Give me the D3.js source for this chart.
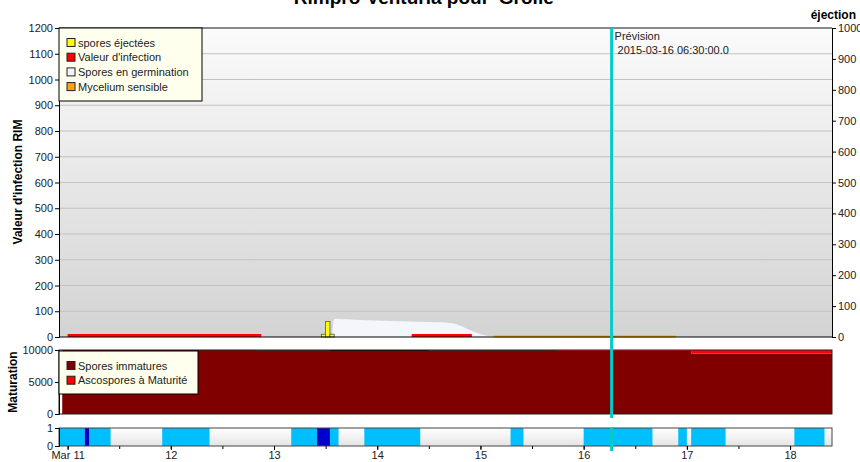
<!DOCTYPE html>
<html>
<head>
<meta charset="utf-8">
<script src="https://cdn.jsdelivr.net/npm/d3@7"></script>
<style>
  body { margin: 0; background: #fff; }
  svg { font-family: Arial, "Liberation Sans", sans-serif; }
  .axis text { font-size: 11px; fill: #222; }
  .axis path, .axis line { stroke: #000; }
  .legend text { font-size: 11px; fill: #222; }
  .ylabel { font-size: 12px; font-weight: bold; fill: #000; }
</style>
</head>
<body>
<svg width="860" height="462"></svg>
<script>
// all times are hours after 2015-03-11 00:00
var startHour = -2, endHour = 177.75;

// Valeur d'infection (red segments near zero)
var infectionStart = [0, 80],
    infectionEnd = [45, 94],
    infectionValue = 6;

// spores éjectées (right axis)
var ejectHours = [59, 60, 61],
    ejectValues = [9, 50, 9];

// Spores en germination
var germHours = [61.5, 62, 64, 66, 68, 70, 72, 74, 76, 78, 80, 82, 84, 86, 88, 89, 90, 91, 92, 93, 94, 95, 96, 97, 98, 99, 100],
    germValues = [0, 70, 69, 68, 66, 65, 64, 63, 62, 61, 60, 59, 58, 57, 56, 54, 51, 46, 39, 31, 24, 17, 11, 7, 4, 2, 0];

// Mycelium sensible
var myceliumStart = 99, myceliumEnd = 141.5, myceliumValue = 2;

// Maturation panel
var matHours = [-1.25, 44, 61, 84, 114, 145, 177.75],
    immature = [10000, 9900, 9850, 9900, 9850, 9450, 9450],
    ejecting = [0, 100, 150, 100, 0, 0, 0],
    mature = [0, 0, 0, 0, 150, 550, 550];

// wetness strip
var wetStart = [-2, 5, 22, 52, 61, 69, 103, 120, 142, 145, 169],
    wetEnd = [4, 10, 33, 58, 63, 82, 106, 136, 144, 153, 176],
    darkStart = [4, 58],
    darkEnd = [5, 61];

var forecastHour = 126.5;
var legendTop = ["spores éjectées", "Valeur d'infection", "Spores en germination", "Mycelium sensible"],
    legendTopColors = ["#ffff00", "#ff0000", "#f4f5fc", "#ffa500"],
    legendMid = ["Spores immatures", "Ascospores à Maturité"],
    legendMidColors = ["#800000", "#ff0000"];

var t0 = new Date(2015, 2, 11);
function hr(h) { return new Date(t0.getTime() + h * 3600e3); }

var svg = d3.select("svg");
var x0 = 59, x1 = 832;

var x = d3.scaleTime().domain([hr(startHour), hr(endHour)]).range([x0, x1]);
var yL = d3.scaleLinear().domain([0, 1200]).range([337, 28]);
var yR = d3.scaleLinear().domain([0, 1000]).range([337, 28]);
var yM = d3.scaleLinear().domain([0, 10000]).range([414, 350]);
var yW = d3.scaleLinear().domain([0, 1]).range([446, 428]);

var defs = svg.append("defs");
var g1 = defs.append("linearGradient").attr("id", "bgTop").attr("x1", 0).attr("x2", 0).attr("y1", 0).attr("y2", 1);
g1.append("stop").attr("offset", "0%").attr("stop-color", "#fbfbfb");
g1.append("stop").attr("offset", "100%").attr("stop-color", "#d3d3d3");
var g2 = defs.append("linearGradient").attr("id", "bgWet").attr("x1", 0).attr("x2", 0).attr("y1", 0).attr("y2", 1);
g2.append("stop").attr("offset", "0%").attr("stop-color", "#ffffff");
g2.append("stop").attr("offset", "100%").attr("stop-color", "#e4e4e4");

// title (cut at top like the original)
svg.append("text")
    .attr("x", 426).attr("y", 4)
    .attr("text-anchor", "middle")
    .style("font-size", "19px").style("font-weight", "bold")
    .text("Rimpro-Venturia pour 'Grolle'");

// TOP PANEL ------------------------
svg.append("rect").attr("x", x0).attr("y", 28).attr("width", x1 - x0).attr("height", 309)
    .attr("fill", "url(#bgTop)");

svg.append("g").selectAll("line")
    .data(d3.range(100, 1200, 100))
    .enter().append("line")
    .attr("x1", x0).attr("x2", x1)
    .attr("y1", function(d) { return yL(d); }).attr("y2", function(d) { return yL(d); })
    .attr("stroke", "#c2c2c2");

svg.append("line").attr("x1", x0).attr("x2", x1).attr("y1", 28).attr("y2", 28)
    .attr("stroke", "#888").attr("stroke-width", 2);

// germination area
var germ = germHours.map(function(h, i) { return {h: h, v: germValues[i]}; });
svg.append("path")
    .datum(germ)
    .attr("fill", "#f5f6fc")
    .attr("d", d3.area()
        .x(function(d) { return x(hr(d.h)); })
        .y0(yL(0))
        .y1(function(d) { return yL(d.v); })
        .curve(d3.curveMonotoneX));

// infection segments
svg.append("g").selectAll("line")
    .data(infectionStart)
    .enter().append("line")
    .attr("x1", function(d) { return x(hr(d)); })
    .attr("x2", function(d, i) { return x(hr(infectionEnd[i])); })
    .attr("y1", yL(infectionValue)).attr("y2", yL(infectionValue))
    .attr("stroke", "#ff0000").attr("stroke-width", 3);

// mycelium
svg.append("line")
    .attr("x1", x(hr(myceliumStart))).attr("x2", x(hr(myceliumEnd)))
    .attr("y1", yL(myceliumValue)).attr("y2", yL(myceliumValue))
    .attr("stroke", "#ffa500").attr("stroke-width", 2);

// ejected spores bars
svg.append("g").selectAll("rect")
    .data(ejectHours)
    .enter().append("rect")
    .attr("x", function(d) { return x(hr(d)); })
    .attr("width", function(d) { return x(hr(d + 1)) - x(hr(d)); })
    .attr("y", function(d, i) { return yR(ejectValues[i]); })
    .attr("height", function(d, i) { return yR(0) - yR(ejectValues[i]); })
    .attr("fill", "#ffff00").attr("stroke", "#555").attr("stroke-width", 0.8);

// axes
svg.append("g").attr("class", "axis")
    .attr("transform", "translate(" + x0 + ",0)")
    .call(d3.axisLeft(yL).tickValues(d3.range(0, 1300, 100)).tickSize(4).tickPadding(2).tickFormat(d3.format("d")));
svg.append("g").attr("class", "axis")
    .attr("transform", "translate(" + x1 + ",0)")
    .call(d3.axisRight(yR).tickValues(d3.range(0, 1100, 100)).tickSize(4).tickPadding(2).tickFormat(d3.format("d")));
svg.append("line").attr("x1", x0).attr("x2", x1).attr("y1", 337).attr("y2", 337).attr("stroke", "#000");

svg.append("text").attr("class", "ylabel")
    .attr("transform", "translate(22,182) rotate(-90)")
    .attr("text-anchor", "middle")
    .text("Valeur d'infection RIM");
svg.append("text").attr("class", "ylabel")
    .attr("x", 856).attr("y", 19).attr("text-anchor", "end")
    .text("éjection");

// MIDDLE PANEL ------------------------
var matRows = matHours.map(function(h, i) {
  return {h: h, immature: immature[i], ejecting: ejecting[i], mature: mature[i]};
});
var stack = d3.stack().keys(["immature", "ejecting", "mature"])(matRows);
var matColors = {immature: "#800000", ejecting: "#1a0000", mature: "#ff0000"};

svg.append("rect").attr("x", x0).attr("y", 350).attr("width", x1 - x0).attr("height", 64).attr("fill", "#fff");
svg.append("g").selectAll("path")
    .data(stack)
    .enter().append("path")
    .attr("fill", function(d) { return matColors[d.key]; })
    .attr("d", d3.area()
        .x(function(d) { return x(hr(d.data.h)); })
        .y0(function(d) { return yM(d[0]); })
        .y1(function(d) { return yM(d[1]); })
        .curve(d3.curveStepAfter));
svg.append("rect").attr("x", x0).attr("y", 350).attr("width", x1 - x0).attr("height", 64)
    .attr("fill", "none").attr("stroke", "#222");
svg.append("g").attr("class", "axis")
    .attr("transform", "translate(" + x0 + ",0)")
    .call(d3.axisLeft(yM).tickValues([0, 5000, 10000]).tickSize(4).tickPadding(2).tickFormat(d3.format("d")));
svg.append("text").attr("class", "ylabel")
    .attr("transform", "translate(17,382) rotate(-90)")
    .attr("text-anchor", "middle")
    .text("Maturation");

// BOTTOM PANEL ------------------------
svg.append("rect").attr("x", x0).attr("y", 428).attr("width", x1 - x0).attr("height", 18)
    .attr("fill", "url(#bgWet)");
svg.append("g").selectAll("rect")
    .data(wetStart)
    .enter().append("rect")
    .attr("x", function(d) { return x(hr(Math.max(d, startHour))); })
    .attr("width", function(d, i) { return x(hr(wetEnd[i])) - x(hr(Math.max(d, startHour))); })
    .attr("y", yW(1)).attr("height", yW(0) - yW(1))
    .attr("fill", "#00bfff");
svg.append("g").selectAll("rect")
    .data(darkStart)
    .enter().append("rect")
    .attr("x", function(d) { return x(hr(d)); })
    .attr("width", function(d, i) { return x(hr(darkEnd[i])) - x(hr(d)); })
    .attr("y", yW(1)).attr("height", yW(0) - yW(1))
    .attr("fill", "#0000cc");
svg.append("rect").attr("x", x0).attr("y", 428).attr("width", x1 - x0).attr("height", 18)
    .attr("fill", "none").attr("stroke", "#444");
svg.append("g").attr("class", "axis")
    .attr("transform", "translate(" + x0 + ",0)")
    .call(d3.axisLeft(yW).tickValues([0, 1]).tickSize(4).tickPadding(2).tickFormat(d3.format("d")));

// x axis
var xAxis = svg.append("g").attr("class", "axis")
    .attr("transform", "translate(0,446)")
    .call(d3.axisBottom(x).ticks(d3.timeDay.every(1)).tickSize(4).tickPadding(1)
      .tickFormat(function(d) { return d.getDate() === 11 ? "Mar 11" : d.getDate(); }));
xAxis.select(".domain").remove();
svg.append("g").attr("class", "axis")
    .attr("transform", "translate(0,446)")
    .call(d3.axisBottom(x).ticks(d3.timeHour.every(12)).tickSize(3).tickFormat(""))
    .select(".domain").remove();

// forecast line
var fx = x(hr(forecastHour));
svg.append("line").attr("x1", fx).attr("x2", fx).attr("y1", 28).attr("y2", 418)
    .attr("stroke", "#00cccc").attr("stroke-width", 3);
svg.append("line").attr("x1", fx).attr("x2", fx).attr("y1", 428).attr("y2", 451)
    .attr("stroke", "#00cccc").attr("stroke-width", 3);
svg.append("text").attr("x", fx + 3).attr("y", 40).style("font-size", "11px").attr("fill", "#222").text("Prévision");
svg.append("text").attr("x", fx + 6).attr("y", 54).style("font-size", "11px").attr("fill", "#222").text("2015-03-16 06:30:00.0");

// LEGENDS ------------------------
function legend(items, colors, top, w, h) {
  var lg = svg.append("g").attr("class", "legend");
  lg.append("rect").attr("x", x0).attr("y", top).attr("width", w).attr("height", h)
      .attr("fill", "#ffffee").attr("stroke", "#000");
  var row = lg.selectAll("g").data(items).enter().append("g")
      .attr("transform", function(d, i) { return "translate(" + (x0 + 8) + "," + (top + 10 + i * 14.7) + ")"; });
  row.append("rect").attr("width", 8).attr("height", 8).attr("y", 0.5)
      .attr("fill", function(d, i) { return colors[i]; }).attr("stroke", "#222");
  row.append("text").attr("x", 11).attr("y", 8.5).text(function(d) { return d; });
}
legend(legendTop, legendTopColors, 28, 143, 73);
legend(legendMid, legendMidColors, 351, 139, 43);
</script>
</body>
</html>
